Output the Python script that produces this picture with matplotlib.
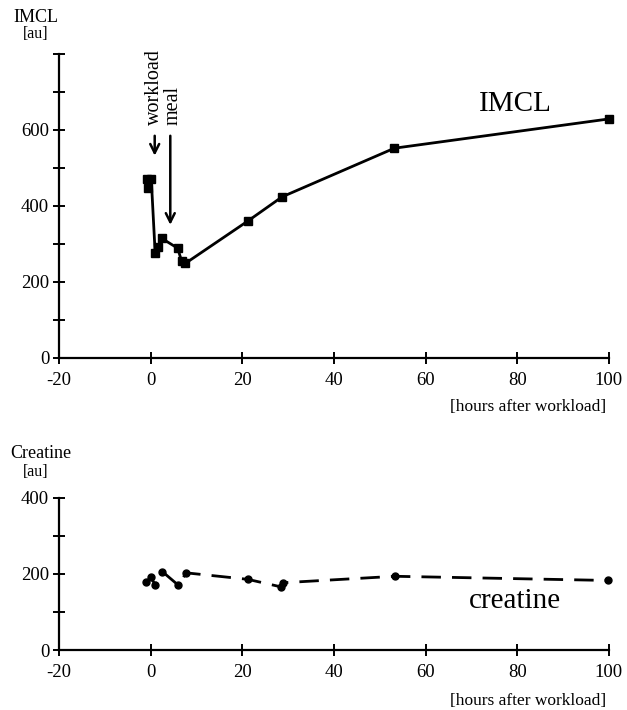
import matplotlib
matplotlib.use("Agg")
import matplotlib.pyplot as plt
import numpy as np

plt.rcParams['font.family'] = ['Liberation Serif', 'DejaVu Serif']

# IMCL time course
imcl_hours = [-0.8, -0.5, 0.15, 1.0, 1.6, 2.4, 5.9, 6.8, 7.6, 21.3, 28.7, 53.2, 100.0]
imcl_values = [471, 446, 471, 276, 293, 315, 289, 254, 249, 361, 424, 552, 629]

# Creatine time course
cr_hours = [-0.9, 0.0, 1.05, 2.6, 6.0, 7.8, 21.2, 28.5, 28.9, 53.3, 99.8]
cr_values = [178, 192, 171, 206, 171, 203, 186, 166, 177, 194, 183]

x_ticks = [-20, 0, 20, 40, 60, 80, 100]
imcl_yticks = [0, 200, 400, 600]
cr_yticks = [0, 200, 400]

fig = plt.figure(figsize=(6.27, 7.10), dpi=100)

def style_axes(ax, ymax, ylabels):
    for s in ['top', 'right']:
        ax.spines[s].set_visible(False)
    for s in ['left', 'bottom']:
        ax.spines[s].set_linewidth(1.6)
    ax.set_xlim(-20, 100)
    ax.set_ylim(0, ymax)
    ax.spines['left'].set_bounds(0, ymax)
    ax.set_xticks(x_ticks)
    ax.set_xticklabels([str(t) for t in x_ticks])
    ax.set_yticks(np.arange(0, ymax + 1, 100))
    ax.set_yticklabels([str(int(t)) if t in ylabels else '' for t in np.arange(0, ymax + 1, 100)])
    ax.tick_params(direction='inout', length=8, width=1.4, labelsize=13.5, pad=3)
    ax.tick_params(axis='x', pad=6)
    ax.patch.set_alpha(0)

# top panel
ax1 = fig.add_axes([0.094, 0.4958, 0.877, 0.4282])
ax1.plot(imcl_hours, imcl_values, color='black', lw=2.0, marker='s', ms=5.5, clip_on=False)
style_axes(ax1, 800, imcl_yticks)
ax1.text(79.5, 669, 'IMCL', fontsize=21, ha='center', va='center')
# annotations
ax1.text(0.9, 613, 'workload', rotation=90, fontsize=14.5, ha='center', va='bottom')
ax1.text(5.0, 613, 'meal', rotation=90, fontsize=14.5, ha='center', va='bottom')
ax1.annotate('', xy=(0.9, 525), xytext=(0.9, 592),
             arrowprops=dict(arrowstyle='->', lw=1.8, color='black', mutation_scale=16))
ax1.annotate('', xy=(4.3, 343), xytext=(4.3, 592),
             arrowprops=dict(arrowstyle='->', lw=1.8, color='black', mutation_scale=16))
fig.text(36 / 627, 1 - 18 / 710, 'IMCL', fontsize=13, ha='center', va='center')
fig.text(36 / 627, 1 - 34 / 710, '[au]', fontsize=11.5, ha='center', va='center')
fig.text(606 / 627, 1 - 407 / 710, '[hours after workload]', fontsize=12.5, ha='right', va='center')

# bottom panel
ax2 = fig.add_axes([0.094, 0.0845, 0.877, 0.2141])
ax2.plot(cr_hours, cr_values, color='black', lw=2.0, linestyle=(0, (7, 4)),
         marker='o', ms=5, clip_on=False)
style_axes(ax2, 400, cr_yticks)
ax2.text(79.5, 128, 'creatine', fontsize=21, ha='center', va='center')
fig.text(41 / 627, 1 - 453 / 710, 'Creatine', fontsize=13, ha='center', va='center')
fig.text(36 / 627, 1 - 472 / 710, '[au]', fontsize=11.5, ha='center', va='center')
fig.text(606 / 627, 1 - 701 / 710, '[hours after workload]', fontsize=12.5, ha='right', va='center')

fig.savefig('out.png', dpi=100, facecolor='white')
